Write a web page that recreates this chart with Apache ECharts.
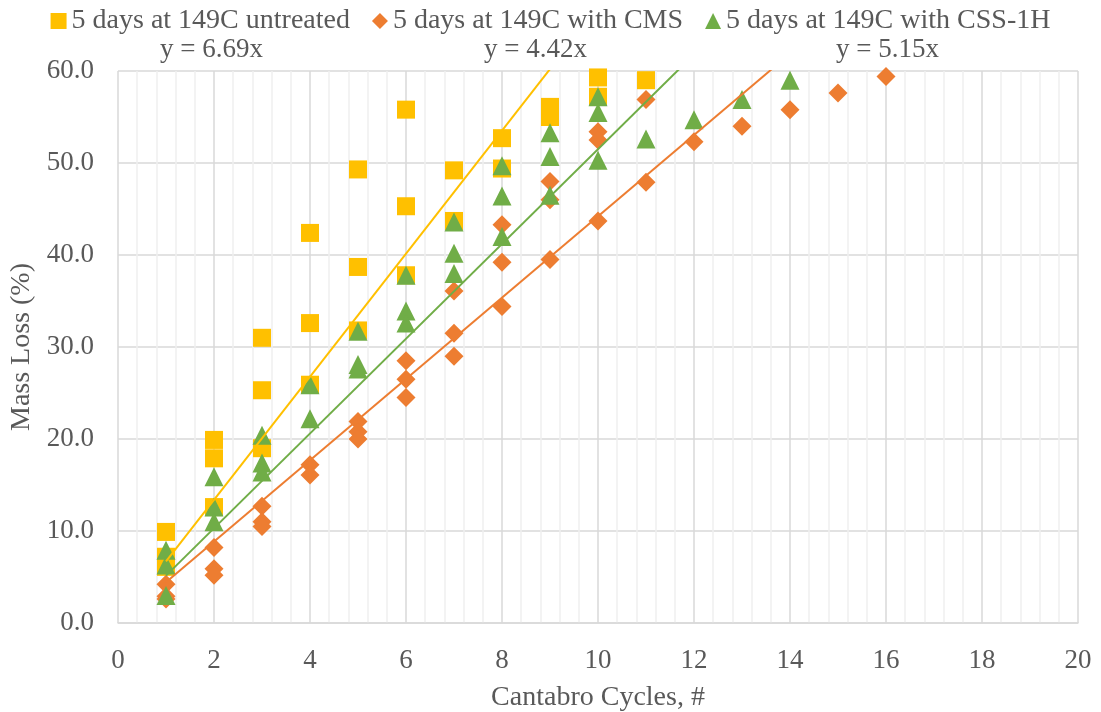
<!DOCTYPE html>
<html>
<head>
<meta charset="utf-8">
<script src="https://cdn.jsdelivr.net/npm/echarts@6/dist/echarts.min.js"></script>
<style>html,body{margin:0;padding:0;background:#fff}#c{width:1101px;height:712px}</style>
</head>
<body>
<div id="c"></div>
<script>
const seriesNames = ['5 days at 149C untreated', '5 days at 149C with CMS', '5 days at 149C with CSS-1H'];
const untreatedX = [1,1,1,2,2,2,3,3,3,4,4,4,5,5,5,6,6,6,7,7,8,8,9,9,10,10,11];
const untreatedY = [9.9,7.2,6.1,19.9,17.9,12.6,31.0,25.3,19.0,42.4,32.6,25.9,49.3,38.7,31.8,55.8,45.3,37.8,49.2,43.7,52.7,49.4,56.1,55.0,59.3,57.2,59.0];
const cmsX = [1,1,1,2,2,2,3,3,3,4,4,5,5,5,6,6,6,7,7,7,8,8,8,9,9,9,10,10,10,11,11,12,13,14,15,16];
const cmsY = [4.2,2.9,2.6,8.2,5.9,5.2,12.7,11.0,10.5,17.2,16.1,21.9,20.8,20.0,28.5,26.5,24.5,36.1,31.5,29.0,43.3,39.2,34.4,48.0,46.0,39.5,53.4,52.5,43.7,56.9,47.9,52.3,54.0,55.8,57.6,59.4];
const cssX = [1,1,1,2,2,2,3,3,3,4,4,5,5,5,6,6,6,7,7,7,8,8,8,9,9,9,10,10,10,11,12,13,14];
const cssY = [7.9,6.3,3.0,15.9,12.6,11.0,20.4,17.4,16.4,25.9,22.2,31.7,28.1,27.6,37.8,33.9,32.6,43.6,40.2,38.0,49.7,46.4,42.0,53.3,50.7,46.5,57.2,55.5,50.3,52.6,54.7,56.9,59.0];
const slopes = [6.69, 4.42, 5.15];
const trendLabels = ['y = 6.69x', 'y = 4.42x', 'y = 5.15x'];
const xTicks = {min: 0, max: 20, interval: 2};
const yTicks = {min: 0, max: 60, interval: 10};

const colors = ['#FFC000', '#ED7D31', '#70AD47'];
const symbols = ['rect', 'diamond', 'triangle'];
const xs = [untreatedX, cmsX, cssX];
const ys = [untreatedY, cmsY, cssY];
const FONT = "'Liberation Serif', 'Times New Roman', serif";
const TXT = '#595959';

const series = [];
for (let i = 0; i < 3; i++) {
  series.push({
    name: seriesNames[i], type: 'scatter', symbol: symbols[i], symbolSize: i === 0 ? 18 : 19,
    itemStyle: {color: colors[i], opacity: 1}, z: 2,
    data: xs[i].map((x, k) => [x, ys[i][k]])
  });
}
for (let i = 0; i < 3; i++) {
  const x0 = Math.min(...xs[i]), x1 = Math.max(...xs[i]);
  series.push({
    name: 'trend' + i, type: 'line', showSymbol: false, symbol: 'none', clip: true, z: 3,
    lineStyle: {color: colors[i], width: 2}, silent: true,
    data: [[x0, slopes[i] * x0], [x1, slopes[i] * x1]]
  });
}

const chart = echarts.init(document.getElementById('c'), null, {renderer: 'canvas'});
chart.setOption({
  animation: false,
  backgroundColor: '#fff',
  textStyle: {fontFamily: FONT},
  legend: {
    data: seriesNames.map((n, i) => ({name: n, icon: symbols[i]})),
    top: 2, left: 'center', itemWidth: 16, itemHeight: 16, itemGap: 22,
    textStyle: {fontFamily: FONT, fontSize: 28, color: TXT}
  },
  grid: {left: 118, right: 23, top: 71, bottom: 89, containLabel: false, outerBoundsMode: 'none'},
  xAxis: {
    type: 'value', min: xTicks.min, max: xTicks.max, interval: xTicks.interval,
    name: 'Cantabro Cycles, #', nameLocation: 'middle', nameGap: 61,
    nameTextStyle: {fontFamily: FONT, fontSize: 28, color: TXT},
    axisLine: {show: true, lineStyle: {color: '#D9D9D9', width: 1.5}},
    axisTick: {show: false},
    axisLabel: {fontFamily: FONT, fontSize: 27, color: TXT, margin: 24},
    splitLine: {show: true, lineStyle: {color: '#D9D9D9', width: 1.5}},
    minorTick: {show: false, splitNumber: 5},
    minorSplitLine: {show: true, lineStyle: {color: '#F0F0F0', width: 1.5}}
  },
  yAxis: {
    type: 'value', min: yTicks.min, max: yTicks.max, interval: yTicks.interval,
    name: 'Mass Loss (%)', nameLocation: 'middle', nameGap: 74,
    nameTextStyle: {fontFamily: FONT, fontSize: 28, color: TXT},
    axisLine: {show: false}, axisTick: {show: false},
    axisLabel: {fontFamily: FONT, fontSize: 27, color: TXT, margin: 24, formatter: v => v.toFixed(1)},
    splitLine: {show: true, lineStyle: {color: '#D9D9D9', width: 1.5}}
  },
  graphic: trendLabels.map((t, i) => ({
    type: 'text', left: [160, 484, 836][i], top: 36,
    style: {text: t, font: "27px 'Liberation Serif', 'Times New Roman', serif", fill: TXT}
  })),
  series: series
});
</script>
</body>
</html>
